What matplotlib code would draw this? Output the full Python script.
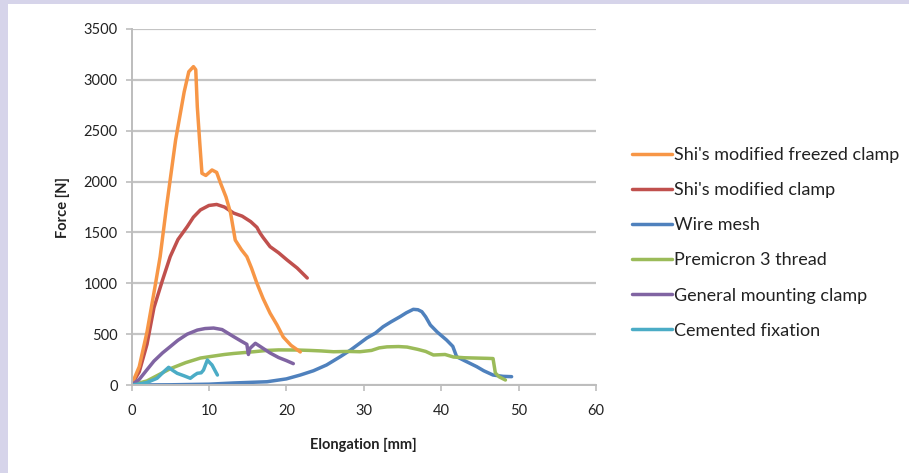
import matplotlib.pyplot as plt
from matplotlib.patches import Rectangle

# data (elongation in mm, force in N)
freezed_x = [0, 1, 2, 3, 3.7, 4.5, 5.7, 6.8, 7.4, 8.0, 8.3, 8.5, 8.8, 9.1, 9.6, 10.4, 11.0, 11.5,
             12.2, 12.8, 13.4, 14.2, 14.9, 15.5, 16.2, 17.0, 17.9, 18.8, 19.6, 20.6, 21.8]
freezed_y = [0, 180, 520, 950, 1262, 1740, 2410, 2880, 3080, 3130, 3100, 2736, 2400, 2081, 2060,
             2114, 2090, 1985, 1850, 1690, 1425, 1330, 1262, 1150, 1000, 850, 706, 590, 472, 390,
             325]

clamp_x = [0, 1, 2, 2.9, 4, 5, 6, 7.2, 8, 8.9, 10, 11, 12, 13.2, 14.3, 15.4, 16.2, 16.6, 17,
           17.9, 19, 20.1, 21.4, 22.7]
clamp_y = [0, 130, 400, 760, 1030, 1262, 1430, 1557, 1650, 1721, 1765, 1775, 1750, 1690, 1660,
           1606, 1550, 1494, 1450, 1360, 1300, 1229, 1150, 1052]

mesh_x = [0, 5, 10, 13.2, 15, 17.5, 20, 21.8, 23.5, 25.2, 27, 28.3, 29.3, 30.4, 31.5, 32.5, 33.5,
          34.7, 35.5, 36.4, 37.0, 37.5, 38.0, 38.6, 39.5, 40.7, 41.5, 42, 43, 44.6, 45.5, 46.7,
          48, 49.1]
mesh_y = [0, 2, 8, 20, 25, 32, 60, 98, 140, 197, 280, 344, 400, 462, 510, 573, 620, 672, 710, 744,
          740, 721, 670, 590, 520, 442, 380, 278, 240, 180, 140, 98, 85, 82]

premicron_x = [0, 2, 3, 5, 7, 8.9, 10.2, 12, 13.2, 15.8, 17.5, 19, 21.4, 23, 24.5, 26.1, 28, 29.5,
               31, 32, 33, 34.5, 35.6, 37, 38, 39, 40.5, 41.6, 43, 44.5, 46, 46.7, 47, 47.5, 48.3]
premicron_y = [0, 40, 80, 160, 220, 265, 280, 300, 310, 327, 340, 345, 344, 340, 335, 327, 330,
               327, 340, 365, 375, 378, 373, 350, 330, 295, 300, 275, 268, 265, 262, 260, 118, 80, 49]

general_x = [0, 1, 2, 2.9, 4, 5, 6, 7.2, 8.5, 9.5, 10.6, 11.7, 13.2, 14.2, 14.9, 15.1, 15.3, 16,
             17, 17.9, 19, 20, 20.9]
general_y = [0, 55, 150, 235, 315, 377, 440, 500, 540, 555, 560, 545, 475, 430, 400, 300, 360, 410,
             360, 315, 270, 240, 210]

cemented_x = [0, 1, 2, 3.3, 4.3, 4.8, 5.3, 5.9, 6.8, 7.6, 8.1, 8.5, 9.0, 9.3, 9.8, 10.1, 10.4,
              10.8, 11.1]
cemented_y = [0, 10, 25, 66, 140, 174, 145, 115, 90, 66, 95, 115, 120, 147, 246, 220, 197, 140, 98]

labels = ["Shi's modified freezed clamp", "Shi's modified clamp", "Wire mesh",
          "Premicron 3 thread", "General mounting clamp", "Cemented fixation"]
colors = ['#F79646', '#C0504D', '#4F81BD', '#9BBB59', '#8064A2', '#4BACC6']

plt.rcParams['font.family'] = ['Lato', 'DejaVu Sans']

fig = plt.figure(figsize=(9.09, 4.73), dpi=100)
fig.patch.set_facecolor('#d6d4ea')
# white page area, leaving the lavender strips on the left and top
fig.patches.append(Rectangle((8 / 909, 0), 1, 1 - 4 / 473, transform=fig.transFigure,
                             facecolor='white', edgecolor='none', zorder=-10))

ax = fig.add_axes([131.5 / 909, 88 / 473, 464.5 / 909, 356 / 473])
ax.set_zorder(1)
ax.set_facecolor('white')

series = [(freezed_x, freezed_y), (clamp_x, clamp_y), (mesh_x, mesh_y),
          (premicron_x, premicron_y), (general_x, general_y), (cemented_x, cemented_y)]
# draw order so the small curves sit on top like the original
order = [2, 3, 1, 0, 4, 5]
lines = {}
for i in order:
    xs, ys = series[i]
    lines[i], = ax.plot(xs, ys, color=colors[i], lw=2.5, solid_capstyle='round')

ax.set_xlim(0, 60)
ax.set_ylim(0, 3500)
ax.set_xticks(range(0, 61, 10))
ax.set_yticks(range(0, 3501, 500))
ax.grid(axis='y', color='#c4c4c4', lw=1.6)
ax.set_axisbelow(True)
for s in ['top', 'right']:
    ax.spines[s].set_visible(False)
for s in ['left', 'bottom']:
    ax.spines[s].set_color('#bdbdbd')
    ax.spines[s].set_linewidth(1.4)
ax.tick_params(axis='both', colors='#bdbdbd', length=4, width=1.2, labelsize=10.5,
               labelcolor='#222222')
ax.tick_params(axis='y', pad=6)
ax.tick_params(axis='x', pad=10)

ax.set_xlabel('Elongation [mm]', fontsize=10.5, fontweight='bold', color='#222222', labelpad=14)
ax.set_ylabel('Force [N]', fontsize=10.5, fontweight='bold', color='#222222', labelpad=10)

fig.legend([lines[i] for i in range(6)], labels, loc='upper left',
           bbox_to_anchor=(632 / 909, 1 - 147 / 473), frameon=False, fontsize=13,
           handlelength=2.2, handletextpad=0.1, labelspacing=1.06, borderpad=0,
           borderaxespad=0, labelcolor='#222222')

fig.savefig('out.png', dpi=100, facecolor=fig.get_facecolor())
